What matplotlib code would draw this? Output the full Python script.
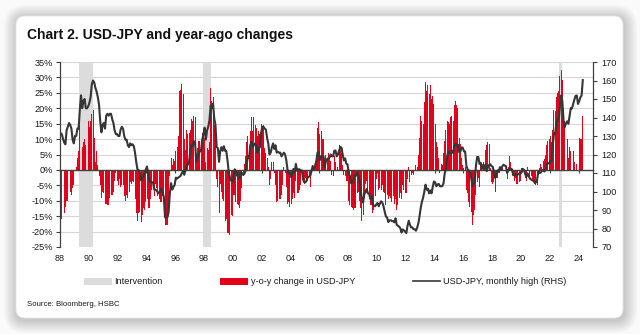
import matplotlib
matplotlib.use("Agg")
import matplotlib.pyplot as plt
from matplotlib.patches import FancyBboxPatch, Patch
from matplotlib.lines import Line2D
from matplotlib.transforms import IdentityTransform
import numpy as np
import pandas as pd

plt.rcParams['font.family'] = ['Liberation Sans', 'DejaVu Sans']

# ---------------- data ----------------
start_month = '1988-01'

# USD-JPY, monthly high (RHS)
usdjpy_high = [
    131.5, 131, 128.5, 126.5, 125.5, 133, 135, 137, 136, 134, 128, 126,            # 1988
    130, 130, 134, 134, 144, 152, 145, 149, 150, 145, 145, 146,                    # 1989
    148, 151, 158, 160, 159, 156, 154, 151, 147, 138, 132, 136,                    # 1990
    137, 134, 141, 142, 141, 142, 142, 139, 137, 133, 131, 131,                    # 1991
    130, 130, 133.5, 135, 134, 130, 128, 128, 125, 124, 126, 125,                  # 1992
    125.5, 124.5, 121, 116, 112, 111.5, 110.5, 106, 107, 108.5, 109.5, 112,        # 1993
    113.5, 109, 106, 105, 105, 105, 101, 101, 100.5, 99.5, 99, 100.5,              # 1994
    101.5, 99.5, 97, 86, 86, 86, 89, 99, 104.5, 101, 102.5, 103.5,                 # 1995
    107.5, 107, 107.5, 108, 108.5, 110, 111, 109, 111.5, 114, 114.5, 116,          # 1996
    121.5, 124.8, 124.5, 127, 127, 116, 118.5, 119.5, 122, 122, 128, 131,          # 1997
    134.5, 128, 133, 135, 138.5, 146.5, 145, 147.6, 139.5, 136, 124, 123.5,        # 1998
    116, 122, 124, 122, 124.5, 122, 122, 117, 111, 107.5, 106, 105,                # 1999
    107, 112, 111, 108.5, 110, 107, 110, 110, 109, 109.5, 111, 114.5,              # 2000
    119, 118, 125, 126.8, 124, 125, 126, 125, 121, 123, 124, 131.5,                # 2001
    135, 135, 134, 133.5, 129, 126, 120, 121, 124, 126, 123, 125,                  # 2002
    121, 121.5, 121, 121, 119, 120, 121, 120, 117, 112, 110, 110,                  # 2003
    107.8, 109.7, 112.2, 110.3, 114.9, 111.2, 112, 112, 111.3, 111.4, 106.5, 105,  # 2004
    105, 106, 108, 108, 108.5, 111, 113.7, 112, 114, 116.4, 121, 121.4,            # 2005
    117, 119, 119, 119, 113, 116.5, 117.5, 118, 118.3, 120, 119, 119,              # 2006
    122, 122.2, 119, 120, 122, 124.1, 123.7, 119.8, 116.8, 117.9, 115, 114.7,      # 2007
    110, 108.3, 104.5, 105, 106, 108.6, 108.5, 110.6, 108.4, 106, 100.5, 96,       # 2008
    94, 98.5, 99.7, 101.4, 99, 98.8, 96, 97.8, 93.3, 92.3, 92, 93,                 # 2009
    93.8, 92, 93.5, 94.7, 94, 92, 89, 86.5, 85.9, 83.5, 84.4, 84.5,                # 2010
    84, 84, 83.3, 85.5, 82, 81.5, 81, 80.2, 77.8, 79.5, 79, 78.3,                  # 2011
    77.5, 81.5, 84.2, 82, 80.6, 80.6, 79.6, 79.6, 78.8, 80.4, 82.8, 86.6,          # 2012
    91.2, 94.5, 96.7, 99.9, 103.7, 101, 101.5, 99, 100.6, 99, 102.5, 105.4,        # 2013
    105, 102.8, 103.8, 104.1, 102.8, 102.8, 103, 104.5, 110, 112, 119, 121.8,      # 2014
    120.8, 120.5, 122, 120.8, 124.4, 125.8, 124.6, 125.3, 121.3, 121.5, 123.8, 123.7,  # 2015
    121.7, 121.6, 114, 112, 111.4, 110.5, 107.5, 102.8, 104, 105.5, 114, 118.7,    # 2016
    118.6, 114.9, 115.5, 112.2, 114.4, 112.4, 114.5, 111, 113.3, 114.4, 114.7, 113.7,  # 2017
    113.4, 110.5, 107.3, 109.5, 111.4, 111, 113.2, 112, 113.7, 114.5, 114, 113.7,  # 2018
    110, 111.5, 112.1, 112.4, 112, 108.8, 109, 109.3, 108.5, 109.3, 109.7, 109.7,  # 2019
    110.3, 112.2, 111.7, 109.4, 108, 109.8, 108.2, 107, 106.5, 106, 105.7, 104.7,  # 2020
    104.9, 106.6, 110.9, 110, 110.2, 111.1, 111.7, 110.8, 112, 114.7, 115.5, 115,  # 2021
    116.4, 116.3, 125.1, 131.3, 131.3, 137, 139.4, 139, 145.9, 151.9, 148.8, 138,  # 2022
    134.8, 136.9, 137.9, 136.6, 140.9, 145.1, 144.9, 147.4, 149.7, 151.7, 151.9, 147.3,  # 2023
    148.8, 150.9, 151.9, 160.2,                                                    # 2024
]

# y-o-y change in USD-JPY (%)
yoy_change = [
    -18, -16, -15, -14, -12, -10, -10, -9, -7, -8, -6, -5,             # 1988
    1, 1, 4, 6, 14.5, 14, 7.5, 9, 10, 8, 13, 16,                       # 1989
    14, 16, 18, 19.5, 10.5, 2.5, 6, 1.5, -2, -5, -9, -7,               # 1990
    -7.5, -11, -11, -11.5, -11.5, -9, -8, -8, -7, -3.5, -1, -3.5,      # 1991
    -5, -3, -5.5, -5, -5, -8.5, -10, -8, -9, -7, -4, -4.5,             # 1992
    -3.5, -4, -9.5, -14, -16.5, -14, -13.5, -17, -14.5, -12.5, -13, -10.5,  # 1993
    -9.5, -12.5, -12.5, -9.5, -6.5, -6, -8.5, -4.5, -6, -8.5, -9.5, -10.5,  # 1994
    -10.5, -8.5, -8.5, -18, -18, -18, -12, -2, 4, 1.5, 3.5, 3,         # 1995
    6, 7.5, 11, 25.5, 26, 28, 24.5, 10, 6.5, 13, 11.5, 12,             # 1996
    13, 16.5, 16, 17.5, 17, 5.5, 7, 9.5, 9.5, 7, 12, 13,               # 1997
    10.5, 2.5, 7, 6.5, 9, 26.5, 22.5, 23.5, 14.5, 11.5, -3, -5.5,      # 1998
    -14, -4.5, -7, -9.5, -10, -16.5, -16, -20.5, -20.5, -21, -14.5, -15,  # 1999
    -8, -8, -10.5, -11, -11.5, -12.5, -10, -6, -2, 2, 4.5, 9,          # 2000
    11, 5.5, 12.5, 17, 12.5, 17, 14.5, 13.5, 11, 12.5, 11.5, 15,       # 2001
    13.5, 14.5, 7, 5.5, 4, 1, -5, -3, 2.5, 2.5, -1, -5,                # 2002
    -10.5, -10, -9.5, -9.5, -8, -5, 1, -1, -5.5, -11, -10.5, -12,      # 2003
    -11, -9.5, -7.5, -9, -3.5, -7.5, -7.5, -6.5, -5, -0.5, -3, -4.5,   # 2004
    -2.5, -3.5, -3.5, -2, -5.5, -0.5, 1.5, 0, 2.5, 4.5, 13.5, 15.5,    # 2005
    11.5, 12.5, 10, 10, 4, 5, 3.5, 5.5, 4, 3, -1.5, -2,                # 2006
    4.5, 2.5, 0, 1, 8, 6.5, 5.5, 1.5, -1.5, -2, -3.5, -3.5,            # 2007
    -10, -11.5, -12, -12.5, -13, -12.5, -12.5, -7.5, -7, -10, -12.5, -16.5,  # 2008
    -14.5, -9, -4.5, -3.5, -6.5, -9, -11.5, -11.5, -14, -13, -8.5, -3,  # 2009
    -0.5, -6.5, -6, -6.5, -5, -7, -7.5, -11.5, -8, -9.5, -8.5, -9,     # 2010
    -10.5, -8.5, -11, -9.5, -13, -11.5, -9, -7.5, -9.5, -5, -6.5, -7.5,  # 2011
    -7.5, -3, 1, -4, -1.5, -1, -1.5, -0.5, 1.5, 1, 5, 10.5,            # 2012
    17.5, 16, 15, 22, 28.5, 25.5, 27.5, 24.5, 27.5, 23, 24, 21.5,      # 2013
    15, 9, 7.5, 4, -1, 2, 1.5, 5.5, 9.5, 13, 16, 15.5,                 # 2014
    15, 17, 17.5, 16, 21, 22.5, 21, 20, 10.5, 8.5, 4, 1.5,             # 2015
    0.5, 1, -6.5, -7.5, -10.5, -12, -13.5, -18, -14.5, -13, -8, -4,    # 2016
    -2.5, -5.5, 1.5, 0.5, 2.5, 1.5, 6.5, 8, 9, 8.5, 0.5, -4,           # 2017
    -4.5, -4, -7, -2.5, -2.5, -1, -1, 1, 0.5, 0, -0.5, 0,              # 2018
    -3, 1, 4.5, 2.5, 0.5, -2, -3.5, -2.5, -4.5, -4.5, -4, -3.5,        # 2019
    0.5, 0.5, -0.5, -2.5, -3.5, 1, -0.5, -2, -2, -3, -3.5, -4.5,       # 2020
    -5, -5, -0.5, 0.5, 2, 1, 3, 3.5, 5, 8, 9.5, 10,                    # 2021
    11, 9, 13, 19.5, 19, 23.5, 25, 25.5, 30.5, 32.5, 29, 20,           # 2022
    16, 17.5, 10, 4, 7.5, 6, 4, 6, 2.5, 0, 2, 6.5,                     # 2023
    10.5, 10, 10, 17.5,                                                # 2024
]

# Intervention periods (decimal years)
intervention_start = [1989.33, 1997.92, 2022.67]
intervention_end = [1990.32, 1998.46, 2022.82]

x_tick_years = list(range(1988, 2025, 2))
x_tick_labels = ['88', '90', '92', '94', '96', '98', '00', '02', '04', '06',
                 '08', '10', '12', '14', '16', '18', '20', '22', '24']
left_ticks = [35, 30, 25, 20, 15, 10, 5, 0, -5, -10, -15, -20, -25]
left_tick_labels = ['35%', '30%', '25%', '20%', '15%', '10%', '5%', '0%',
                    '-5%', '-10%', '-15%', '-20%', '-25%']
right_ticks = [170, 160, 150, 140, 130, 120, 110, 100, 90, 80, 70]
right_tick_labels = [str(v) for v in right_ticks]

title = 'Chart 2. USD-JPY and year-ago changes'
source = 'Source: Bloomberg, HSBC'
legend_labels = ['Intervention', 'y-o-y change in USD-JPY', 'USD-JPY, monthly high (RHS)']

# ---------------- styles ----------------
RED = '#e2001a'
LINE = '#363636'
SHADE = '#dcdcdc'
GRID = '#d6d6d6'
AXC = '#404040'
TXT = '#1a1a1a'

W, H = 640, 334
fig = plt.figure(figsize=(W / 100, H / 100), dpi=100)
fig.patch.set_facecolor('#fafafa')

# card with soft shadow (pixel coordinates)
cx0, cy0, cw, ch, rad = 16, 16, 607, 302, 9
for i in range(10, 0, -1):
    s = i * 1.3
    sh = FancyBboxPatch((cx0 - s + 1, cy0 - s - 2), cw + 2 * s, ch + 2 * s,
                        boxstyle=f"round,pad=0,rounding_size={rad + s}",
                        transform=IdentityTransform(), facecolor='black',
                        edgecolor='none', alpha=0.02, zorder=-10)
    fig.patches.append(sh)
card = FancyBboxPatch((cx0, cy0), cw, ch, boxstyle=f"round,pad=0,rounding_size={rad}",
                      transform=IdentityTransform(), facecolor='white',
                      edgecolor='#e6e6e6', linewidth=0.6, zorder=-5)
fig.patches.append(card)

# axes
ax_l, ax_r, ax_t, ax_b = 60, 593, 62, 247
ax = fig.add_axes([ax_l / W, 1 - ax_b / H, (ax_r - ax_l) / W, (ax_b - ax_t) / H])
ax.set_facecolor('none')

months = pd.date_range(start_month, periods=len(usdjpy_high), freq='MS')
xpos = months.year.values + (months.month.values - 0.5) / 12.0

ax.set_xlim(1988, 2025)
ax.set_ylim(-25, 35)

for s0, s1 in zip(intervention_start, intervention_end):
    ax.axvspan(s0, s1, color=SHADE, lw=0, zorder=1)

ax.bar(xpos, yoy_change, width=0.068, color=RED, lw=0, zorder=2)

ax.set_yticks(left_ticks)
ax.set_yticklabels(left_tick_labels)
ax.yaxis.grid(True, color=GRID, lw=0.8, zorder=0)
ax.set_axisbelow(True)
ax.tick_params(axis='y', direction='out', length=3, width=0.8, color=AXC,
               labelsize=6.6, labelcolor=TXT, pad=2)

for sp in ['top', 'right']:
    ax.spines[sp].set_visible(False)
ax.spines['left'].set_color(AXC)
ax.spines['left'].set_linewidth(0.9)
ax.spines['bottom'].set_position(('data', 0))
ax.spines['bottom'].set_color(AXC)
ax.spines['bottom'].set_linewidth(1.0)
ax.spines['bottom'].set_zorder(3)
ax.set_xticks(x_tick_years)
ax.tick_params(axis='x', direction='out', length=2.5, width=0.8, color=AXC,
               labelbottom=False)

sec = ax.secondary_xaxis('bottom')
sec.set_xticks(x_tick_years)
sec.set_xticklabels(x_tick_labels)
sec.spines['bottom'].set_visible(False)
sec.tick_params(length=0, pad=5, labelsize=6.6, labelcolor=TXT)

ax2 = ax.twinx()
ax2.set_ylim(70, 170)
ax2.plot(xpos, usdjpy_high, color=LINE, lw=1.5, solid_joinstyle='round', zorder=5)
ax2.set_yticks(right_ticks)
ax2.set_yticklabels(right_tick_labels)
ax2.tick_params(axis='y', direction='out', length=3, width=0.8, color=AXC,
                labelsize=6.6, labelcolor=TXT, pad=3)
for sp in ['top', 'left', 'bottom']:
    ax2.spines[sp].set_visible(False)
ax2.spines['right'].set_color(AXC)
ax2.spines['right'].set_linewidth(0.9)

# title and source
fig.text(27 / W, 1 - 35 / H, title, fontsize=10, fontweight='bold', color='#111111',
         ha='left', va='center')
fig.text(27 / W, 1 - 304 / H, source, fontsize=5.6, color=TXT, ha='left', va='center')

# legend
handles = [Patch(facecolor=SHADE, edgecolor='none'),
           Patch(facecolor=RED, edgecolor='none'),
           Line2D([0], [0], color=LINE, lw=1.2)]
leg = fig.legend(handles, legend_labels, loc='center left',
                 bbox_to_anchor=(84 / W, 1 - 282 / H), ncol=3, frameon=False,
                 fontsize=6.6, handlelength=3.0, handleheight=0.7, handletextpad=0.3,
                 columnspacing=6.3, borderpad=0, borderaxespad=0, labelcolor=TXT)

fig.savefig('out.png', dpi=100, facecolor=fig.get_facecolor())
